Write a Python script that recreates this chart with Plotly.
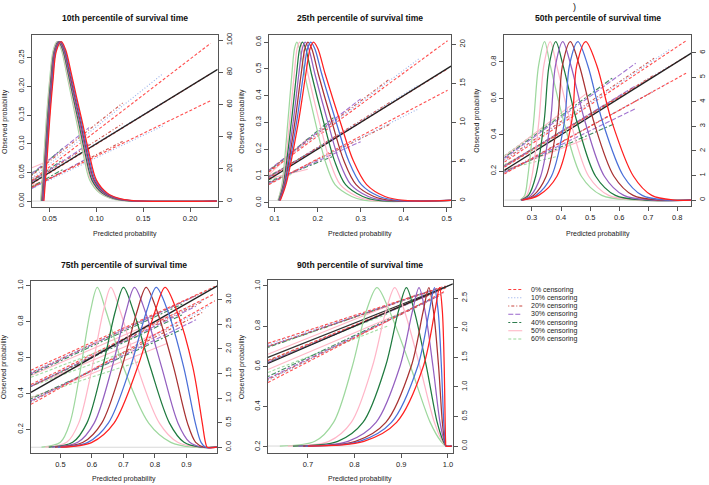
import plotly.graph_objects as go

W, H = 709, 485

CENSORING = ["0%", "10%", "20%", "30%", "40%", "50%", "60%"]
LEGEND_LABELS = [c + " censoring" for c in CENSORING]
DENS_COLORS = ["#FF2020", "#4A6FD8", "#A83232", "#9460C0", "#1F7A3F", "#FFB6C8", "#9ED89E"]
CAL_COLORS = ["#FF3B3B", "#8FA8E8", "#C8443C", "#9966CC", "#2E7D4F", "#FFB0C0", "#98D898"]
CAL_DASH = ["3px,2px", "1px,2px", "1px,2px,3px,2px", "5px,2px", "2px,2px,5px,2px", "solid", "3px,2px"]

TITLES = ["10th percentile of survival time", "25th percentile of survival time",
          "50th percentile of survival time", "75th percentile of survival time",
          "90th percentile of survival time"]

# ---------------- density curves (right axis units), x per censoring level ----------------
DENS_Y_10 = [0, 25, 50, 75, 93, 99, 94, 80, 65, 50, 30, 13, 5, 1.8, 0.3, 0]
DENS_X_10 = {
    "0%":  [0.0439, 0.0471, 0.0500, 0.0536, 0.0571, 0.0625, 0.0671, 0.0729, 0.0786, 0.0846, 0.0921, 0.1000, 0.1114, 0.1232, 0.1393, 0.2286],
    "10%": [0.0433, 0.0465, 0.0494, 0.0530, 0.0565, 0.0617, 0.0663, 0.0721, 0.0777, 0.0836, 0.0910, 0.0988, 0.1101, 0.1217, 0.1375, 0.2286],
    "20%": [0.0427, 0.0459, 0.0488, 0.0524, 0.0559, 0.0610, 0.0656, 0.0712, 0.0768, 0.0826, 0.0900, 0.0976, 0.1088, 0.1202, 0.1357, 0.2286],
    "30%": [0.0421, 0.0453, 0.0482, 0.0518, 0.0553, 0.0602, 0.0648, 0.0704, 0.0759, 0.0816, 0.0889, 0.0965, 0.1075, 0.1188, 0.1340, 0.2286],
    "40%": [0.0416, 0.0448, 0.0476, 0.0512, 0.0548, 0.0594, 0.0640, 0.0696, 0.0750, 0.0806, 0.0878, 0.0953, 0.1062, 0.1173, 0.1322, 0.2286],
    "50%": [0.0410, 0.0442, 0.0470, 0.0506, 0.0542, 0.0587, 0.0633, 0.0687, 0.0741, 0.0796, 0.0868, 0.0941, 0.1049, 0.1158, 0.1304, 0.2286],
    "60%": [0.0404, 0.0436, 0.0464, 0.0500, 0.0536, 0.0579, 0.0625, 0.0679, 0.0732, 0.0786, 0.0857, 0.0929, 0.1036, 0.1143, 0.1286, 0.2286],
}

DENS_Y_25 = [0, 2.03, 10.15, 16.24, 19.49, 20.3, 19.49, 16.24, 10.15, 5.08, 2.03, 0.51, 0, 0]
DENS_X_25 = {
    "0%":  [0.1131, 0.1263, 0.1556, 0.1726, 0.1826, 0.1903, 0.2004, 0.2174, 0.2521, 0.2830, 0.3139, 0.3564, 0.4027, 0.51],
    "10%": [0.1122, 0.1248, 0.1515, 0.1672, 0.1766, 0.1839, 0.1933, 0.2094, 0.2425, 0.2721, 0.3017, 0.3435, 0.3873, 0.51],
    "20%": [0.1113, 0.1232, 0.1474, 0.1618, 0.1705, 0.1774, 0.1862, 0.2014, 0.2328, 0.2611, 0.2894, 0.3307, 0.3718, 0.51],
    "30%": [0.1104, 0.1217, 0.1433, 0.1564, 0.1645, 0.1710, 0.1792, 0.1935, 0.2232, 0.2502, 0.2772, 0.3178, 0.3564, 0.51],
    "40%": [0.1095, 0.1201, 0.1391, 0.1510, 0.1584, 0.1646, 0.1721, 0.1855, 0.2135, 0.2393, 0.2650, 0.3049, 0.3409, 0.51],
    "50%": [0.1086, 0.1186, 0.1350, 0.1456, 0.1524, 0.1581, 0.1650, 0.1775, 0.2039, 0.2283, 0.2527, 0.2921, 0.3255, 0.51],
    "60%": [0.1077, 0.1170, 0.1309, 0.1402, 0.1463, 0.1517, 0.1579, 0.1695, 0.1942, 0.2174, 0.2405, 0.2792, 0.3100, 0.51],
}

DENS_Y_50 = [0, 0.19, 0.97, 3.22, 5.48, 6.45, 5.48, 3.22, 0.97, 0.19, 0, 0]
DENS_X_50 = {
    "0%":  [0.266, 0.323, 0.386, 0.437, 0.454, 0.485, 0.523, 0.574, 0.649, 0.712, 0.790, 0.848],
    "10%": [0.265, 0.314, 0.367, 0.412, 0.429, 0.458, 0.492, 0.542, 0.615, 0.679, 0.763, 0.848],
    "20%": [0.264, 0.305, 0.349, 0.388, 0.405, 0.432, 0.463, 0.512, 0.582, 0.648, 0.738, 0.848],
    "30%": [0.263, 0.296, 0.330, 0.364, 0.381, 0.406, 0.434, 0.482, 0.549, 0.616, 0.712, 0.848],
    "40%": [0.262, 0.288, 0.313, 0.342, 0.359, 0.382, 0.407, 0.454, 0.519, 0.587, 0.688, 0.848],
    "50%": [0.261, 0.282, 0.300, 0.324, 0.341, 0.363, 0.385, 0.432, 0.495, 0.564, 0.669, 0.848],
    "60%": [0.260, 0.275, 0.286, 0.306, 0.323, 0.3435, 0.363, 0.409, 0.470, 0.540, 0.650, 0.848],
}

DENS_Y_75 = [0, 0.10, 0.49, 1.63, 2.76, 3.25, 2.76, 1.63, 0.49, 0.10, 0, 0]
DENS_X_75 = {
    "0%":  [0.500, 0.600, 0.670, 0.745, 0.800, 0.832, 0.870, 0.920, 0.950, 0.960, 0.966, 0.997],
    "10%": [0.492, 0.587, 0.652, 0.722, 0.773, 0.804, 0.841, 0.891, 0.928, 0.946, 0.961, 0.997],
    "20%": [0.483, 0.572, 0.631, 0.695, 0.743, 0.772, 0.807, 0.859, 0.903, 0.929, 0.956, 0.997],
    "30%": [0.473, 0.555, 0.607, 0.664, 0.708, 0.735, 0.769, 0.821, 0.873, 0.910, 0.950, 0.997],
    "40%": [0.463, 0.539, 0.584, 0.634, 0.674, 0.700, 0.732, 0.785, 0.846, 0.892, 0.944, 0.997],
    "50%": [0.452, 0.520, 0.558, 0.601, 0.636, 0.660, 0.690, 0.744, 0.814, 0.872, 0.937, 0.997],
    "60%": [0.440, 0.500, 0.530, 0.565, 0.595, 0.617, 0.645, 0.700, 0.780, 0.850, 0.920, 0.997],
}

DENS_Y_90 = [0, 0.08, 0.40, 1.34, 2.28, 2.68, 2.28, 1.34, 0.40, 0.08, 0, 0]
DENS_X_90 = {
    "0%":  [0.700, 0.820, 0.890, 0.947, 0.972, 0.982, 0.988, 0.992, 0.994, 0.995, 0.996, 1.008],
    "10%": [0.695, 0.811, 0.879, 0.935, 0.960, 0.971, 0.979, 0.986, 0.991, 0.994, 0.996, 1.008],
    "20%": [0.690, 0.802, 0.867, 0.921, 0.947, 0.959, 0.969, 0.980, 0.988, 0.993, 0.996, 1.008],
    "30%": [0.680, 0.786, 0.846, 0.897, 0.924, 0.938, 0.951, 0.968, 0.983, 0.992, 0.996, 1.008],
    "40%": [0.668, 0.764, 0.818, 0.866, 0.894, 0.911, 0.928, 0.954, 0.977, 0.990, 0.996, 1.008],
    "50%": [0.657, 0.745, 0.793, 0.838, 0.867, 0.886, 0.907, 0.940, 0.971, 0.988, 0.996, 1.008],
    "60%": [0.640, 0.715, 0.755, 0.795, 0.825, 0.848, 0.875, 0.920, 0.962, 0.985, 0.996, 1.008],
}

# ---------------- calibration lines ----------------
# row per censoring: [x_end, upper_start, upper_end, mid_start, mid_end, lower_start, lower_end]
CAL_X0_10 = 0.0311
CAL_10 = [
    [0.222, 0.036, 0.275, 0.030, 0.222, 0.024, 0.175],
    [0.171, 0.040, 0.222, 0.032, 0.172, 0.022, 0.131],
    [0.128, 0.045, 0.171, 0.033, 0.135, 0.024, 0.104],
    [0.092, 0.048, 0.128, 0.034, 0.100, 0.022, 0.076],
    [0.064, 0.046, 0.092, 0.035, 0.072, 0.025, 0.055],
    [0.046, 0.058, 0.068, 0.040, 0.049, 0.028, 0.036],
    [0.040, 0.050, 0.058, 0.037, 0.043, 0.026, 0.031],
]
CAL_X0_25 = 0.0868
CAL_25 = [
    [0.502, 0.115, 0.605, 0.090, 0.500, 0.068, 0.420],
    [0.435, 0.118, 0.537, 0.092, 0.440, 0.070, 0.351],
    [0.368, 0.120, 0.463, 0.094, 0.375, 0.072, 0.293],
    [0.300, 0.122, 0.388, 0.096, 0.300, 0.074, 0.228],
    [0.237, 0.118, 0.318, 0.098, 0.240, 0.078, 0.174],
    [0.177, 0.105, 0.240, 0.100, 0.180, 0.090, 0.125],
    [0.140, 0.120, 0.185, 0.102, 0.142, 0.086, 0.106],
]
CAL_X0_50 = 0.205
CAL_50 = [
    [0.830, 0.250, 0.916, 0.222, 0.830, 0.185, 0.738],
    [0.775, 0.255, 0.870, 0.224, 0.780, 0.188, 0.690],
    [0.720, 0.262, 0.820, 0.226, 0.728, 0.190, 0.640],
    [0.657, 0.270, 0.793, 0.228, 0.670, 0.194, 0.544],
    [0.580, 0.275, 0.716, 0.230, 0.590, 0.198, 0.458],
    [0.490, 0.280, 0.630, 0.232, 0.500, 0.204, 0.380],
    [0.390, 0.285, 0.500, 0.236, 0.390, 0.210, 0.283],
]
CAL_X0_75 = 0.4066
CAL_75 = [
    [0.990, 0.530, 0.995, 0.450, 0.955, 0.340, 0.915],
    [0.970, 0.520, 0.975, 0.445, 0.935, 0.350, 0.885],
    [0.950, 0.515, 0.960, 0.440, 0.910, 0.355, 0.850],
    [0.930, 0.510, 0.945, 0.440, 0.885, 0.360, 0.810],
    [0.890, 0.505, 0.900, 0.440, 0.840, 0.370, 0.760],
    [0.840, 0.500, 0.830, 0.440, 0.760, 0.375, 0.680],
    [0.750, 0.490, 0.720, 0.440, 0.660, 0.380, 0.578],
]
CAL_X0_90 = 0.6145
CAL_90 = [
    [0.995, 0.715, 1.000, 0.630, 0.990, 0.520, 0.975],
    [0.990, 0.710, 0.995, 0.625, 0.985, 0.530, 0.965],
    [0.985, 0.700, 0.990, 0.625, 0.980, 0.535, 0.955],
    [0.975, 0.700, 0.985, 0.620, 0.970, 0.540, 0.945],
    [0.960, 0.695, 0.975, 0.620, 0.955, 0.550, 0.930],
    [0.930, 0.660, 0.955, 0.620, 0.930, 0.585, 0.895],
    [0.870, 0.695, 0.900, 0.630, 0.860, 0.570, 0.800],
]
EXTRA_BLACK_90_X = [0.6145, 1.0]
EXTRA_BLACK_90_Y = [0.645, 1.0]

# ---------------- ticks ----------------
XT = [[0.05, 0.10, 0.15, 0.20], [0.1, 0.2, 0.3, 0.4, 0.5], [0.3, 0.4, 0.5, 0.6, 0.7, 0.8],
      [0.5, 0.6, 0.7, 0.8, 0.9], [0.7, 0.8, 0.9, 1.0]]
YLT = [[0.00, 0.05, 0.10, 0.15, 0.20, 0.25], [0.0, 0.1, 0.2, 0.3, 0.4, 0.5, 0.6], [0.2, 0.4, 0.6, 0.8],
       [0.2, 0.4, 0.6, 0.8, 1.0], [0.2, 0.4, 0.6, 0.8, 1.0]]
YRT = [[0, 20, 40, 60, 80, 100], [0, 5, 10, 15, 20], [0, 1, 2, 3, 4, 5, 6],
       [0.0, 0.5, 1.0, 1.5, 2.0, 2.5, 3.0], [0.0, 0.5, 1.0, 1.5, 2.0, 2.5]]

# ---------------- layout of panels (pixels) ----------------
PANELS = [
    dict(box=(32, 218, 32.5, 205), xr=(0.03112, 0.22955), ylr=(-0.0099, 0.289), yrr=(-3.52, 103.0),
         xf=".2f", ylf=".2f", yrf="d", dy=DENS_Y_10, dx=DENS_X_10, cal=CAL_10, x0=CAL_X0_10,
         ty=15, xty=232, ytx=5),
    dict(box=(269.3, 451.7, 32.5, 205), xr=(0.08677, 0.5102), ylr=(-0.0148, 0.6252), yrr=(-0.80, 21.17),
         xf=".1f", ylf=".1f", yrf="d", dy=DENS_Y_25, dx=DENS_X_25, cal=CAL_25, x0=CAL_X0_25,
         ty=15, xty=232, ytx=242),
    dict(box=(505, 692.3, 32.5, 204), xr=(0.2049, 0.8481), ylr=(0.0107, 0.9462), yrr=(-0.2306, 6.708),
         xf=".1f", ylf=".1f", yrf="d", dy=DENS_Y_50, dx=DENS_X_50, cal=CAL_50, x0=CAL_X0_50,
         ty=15.5, xty=232, ytx=477),
    dict(box=(31, 217.7, 279.3, 452.5), xr=(0.4066, 0.9979), ylr=(0.0713, 1.0276), yrr=(-0.111, 3.388),
         xf=".1f", ylf=".1f", yrf=".1f", dy=DENS_Y_75, dx=DENS_X_75, cal=CAL_75, x0=CAL_X0_75,
         ty=263.5, xty=479, ytx=3.5),
    dict(box=(268.3, 453.5, 279, 452.7), xr=(0.6145, 1.0105), ylr=(0.1704, 1.0281), yrr=(-0.116, 2.8024),
         xf=".1f", ylf=".1f", yrf=".1f", dy=DENS_Y_90, dx=DENS_X_90, cal=CAL_90, x0=CAL_X0_90,
         ty=263.5, xty=479, ytx=242),
]

FONT = "Liberation Sans, Arial, sans-serif"
AX_COL = "#555555"
TXT_COL = "#222222"


def px(x):
    return x / W


def py(y):
    return 1 - y / H


fig = go.Figure()
layout = dict(width=W, height=H, margin=dict(l=0, r=0, t=0, b=0), paper_bgcolor="white",
              plot_bgcolor="white", showlegend=False, font=dict(family=FONT, color=TXT_COL))
annotations = []
shapes = []

for i, P in enumerate(PANELS):
    n = i + 1
    xa = "x" if n == 1 else f"x{n}"
    yl_id = 2 * n - 1
    yr_id = 2 * n
    yl = "y" if yl_id == 1 else f"y{yl_id}"
    yr = f"y{yr_id}"
    x_l, x_r, y_t, y_b = P["box"]
    xdom = [px(x_l), px(x_r)]
    ydom = [py(y_b), py(y_t)]

    common = dict(showgrid=False, zeroline=False, ticks="outside", tickwidth=1, ticklen=4,
                  tickcolor=AX_COL, tickfont=dict(size=7.5, color=TXT_COL, family=FONT))
    layout["xaxis" if n == 1 else f"xaxis{n}"] = dict(
        domain=xdom, range=list(P["xr"]), anchor=yl, showline=True, mirror=True, linecolor=AX_COL,
        linewidth=1, tickvals=XT[i], tickformat=P["xf"], **common)
    layout["yaxis" if yl_id == 1 else f"yaxis{yl_id}"] = dict(
        domain=ydom, range=list(P["ylr"]), anchor=xa, showline=True, mirror=True, linecolor=AX_COL,
        linewidth=1, tickvals=YLT[i], tickformat=P["ylf"], tickangle=-90, **common)
    layout[f"yaxis{yr_id}"] = dict(
        domain=ydom, range=list(P["yrr"]), anchor=xa, overlaying=yl, side="right", showline=False,
        tickvals=YRT[i], tickformat=P["yrf"], tickangle=-90, **common)

    # baseline of densities
    fig.add_trace(go.Scatter(x=[P["xr"][0], P["xr"][1]], y=[0, 0], mode="lines",
                             line=dict(color="#D8D8D8", width=1), xaxis=xa, yaxis=yr, hoverinfo="skip"))
    # density curves (60% drawn first so red is on top)
    for k in range(len(CENSORING) - 1, -1, -1):
        c = CENSORING[k]
        fig.add_trace(go.Scatter(x=P["dx"][c], y=P["dy"], mode="lines",
                                 line=dict(color=DENS_COLORS[k], width=1.25, shape="spline", smoothing=0.9),
                                 xaxis=xa, yaxis=yr, hoverinfo="skip"))
    # calibration lines
    for k in range(len(CENSORING) - 1, -1, -1):
        row = P["cal"][k]
        xe = row[0]
        for (s, e) in [(row[1], row[2]), (row[3], row[4]), (row[5], row[6])]:
            fig.add_trace(go.Scatter(x=[P["x0"], xe], y=[s, e], mode="lines",
                                     line=dict(color=CAL_COLORS[k], width=1.1, dash=CAL_DASH[k]),
                                     opacity=0.9, xaxis=xa, yaxis=yl, hoverinfo="skip"))
    # identity line
    fig.add_trace(go.Scatter(x=[P["xr"][0], P["xr"][1]], y=[P["xr"][0], P["xr"][1]], mode="lines",
                             line=dict(color="#222222", width=1.3), xaxis=xa, yaxis=yl, hoverinfo="skip"))
    if n == 5:
        fig.add_trace(go.Scatter(x=EXTRA_BLACK_90_X, y=EXTRA_BLACK_90_Y, mode="lines",
                                 line=dict(color="#333333", width=1.1), xaxis=xa, yaxis=yl, hoverinfo="skip"))

    cx = (x_l + x_r) / 2
    cy = (y_t + y_b) / 2
    annotations.append(dict(text="<b>" + TITLES[i] + "</b>", x=px(cx), y=py(P["ty"]), xref="paper",
                            yref="paper", showarrow=False, xanchor="center", yanchor="middle",
                            font=dict(size=8.6, color="#111111", family=FONT)))
    annotations.append(dict(text="Predicted probability", x=px(cx), y=py(P["xty"]), xref="paper",
                            yref="paper", showarrow=False, xanchor="center", yanchor="middle",
                            font=dict(size=7, color=TXT_COL, family=FONT)))
    annotations.append(dict(text="Observed probability", x=px(P["ytx"]), y=py(cy), xref="paper",
                            yref="paper", showarrow=False, xanchor="center", yanchor="middle",
                            textangle=-90, font=dict(size=7, color=TXT_COL, family=FONT)))

# stray bracket at the top of the source image
annotations.append(dict(text=")", x=px(575), y=py(4), xref="paper", yref="paper", showarrow=False,
                        xanchor="center", yanchor="middle", font=dict(size=9, color="#111111", family=FONT)))

# legend (drawn manually)
LEG_X0, LEG_X1, LEG_TX = 509, 523, 530
LEG_Y0, LEG_DY = 288.3, 8.3
for k, lab in enumerate(LEGEND_LABELS):
    yy = LEG_Y0 + k * LEG_DY
    shapes.append(dict(type="line", xref="paper", yref="paper", x0=px(LEG_X0), x1=px(LEG_X1),
                       y0=py(yy), y1=py(yy), line=dict(color=CAL_COLORS[k], width=1, dash=CAL_DASH[k])))
    annotations.append(dict(text=lab, x=px(LEG_TX), y=py(yy), xref="paper", yref="paper",
                            showarrow=False, xanchor="left", yanchor="middle",
                            font=dict(size=7, color=TXT_COL, family=FONT)))

layout["annotations"] = annotations
layout["shapes"] = shapes
fig.update_layout(**layout)
fig.write_html("out.html", config={"displayModeBar": False, "staticPlot": True},
               post_script="document.body.style.margin='0';document.body.style.overflow='hidden';")
